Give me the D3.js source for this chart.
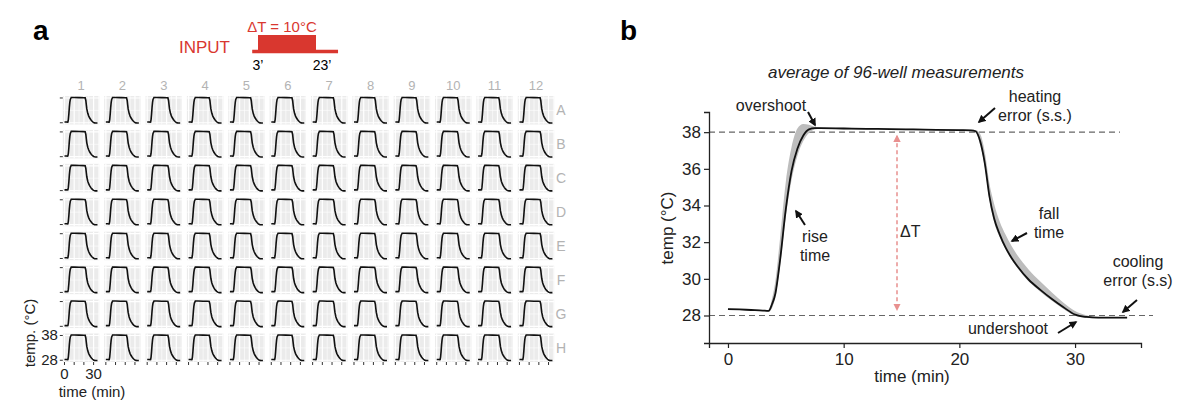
<!DOCTYPE html>
<html>
<head>
<meta charset="utf-8">
<script src="https://cdn.jsdelivr.net/npm/d3@7"></script>
<style>
  body { margin: 0; background: #fff; }
  text { font-family: "Liberation Sans", Arial, sans-serif; }
</style>
</head>
<body>
<div id="chart"></div>
<script>
// ---- data ----
const wellCols = ["1","2","3","4","5","6","7","8","9","10","11","12"];
const wellRows = ["A","B","C","D","E","F","G","H"];

// representative well trace (min, degC)
const wellTime = [0, 2, 3, 3.5, 4, 4.5, 5, 5.5, 6, 7, 10, 15, 20, 21.3, 22, 22.5, 23, 24, 25, 26, 27, 28, 29, 30, 31, 32, 34];
const wellTemp = [28.3, 28.3, 28.25, 28.3, 29.3, 31.5, 34.2, 36.2, 37.4, 38.2, 38.2, 38.15, 38.1, 38.05, 37.0, 35.2, 33.6, 31.8, 30.7, 29.9, 29.3, 28.8, 28.4, 28.1, 27.95, 27.9, 27.9];

// input pulse
const pulseStart = 3, pulseEnd = 23, pulseLineFrom = 1, pulseLineTo = 30.6;

// panel b: average of 96 wells with spread
const bTime = [0, 1, 2, 3, 3.5, 3.8, 4.1, 4.5, 5.0, 5.5, 6.0, 6.5, 7.0, 7.5, 8, 10, 12, 14, 16, 18, 20, 21, 21.4, 21.8, 22.2, 22.6, 23.0, 23.5, 24, 24.5, 25, 26, 27, 28, 29, 30, 31, 32, 33, 34, 34.5];
const bMean = [28.35, 28.33, 28.3, 28.27, 28.25, 28.6, 29.2, 31.0, 33.8, 35.9, 37.1, 37.8, 38.15, 38.22, 38.22, 38.2, 38.18, 38.17, 38.15, 38.13, 38.11, 38.1, 38.05, 37.5, 36.3, 34.5, 33.3, 32.4, 31.7, 31.15, 30.7, 29.95, 29.4, 28.9, 28.45, 28.05, 27.92, 27.88, 27.88, 27.88, 27.88];
const bHigh = [28.38, 28.36, 28.33, 28.3, 28.3, 28.9, 29.9, 32.2, 35.3, 37.2, 38.2, 38.45, 38.4, 38.3, 38.26, 38.24, 38.22, 38.2, 38.18, 38.16, 38.14, 38.13, 38.12, 37.9, 36.9, 35.2, 34.1, 33.1, 32.4, 31.8, 31.3, 30.5, 29.85, 29.25, 28.7, 28.25, 28.02, 27.92, 27.91, 27.91, 27.91];
const bLow = [28.32, 28.3, 28.27, 28.24, 28.2, 28.4, 29.0, 30.7, 33.4, 35.4, 36.7, 37.5, 37.95, 38.15, 38.18, 38.16, 38.14, 38.13, 38.11, 38.1, 38.08, 38.07, 38.0, 37.3, 36.1, 34.3, 33.1, 32.25, 31.6, 31.05, 30.6, 29.85, 29.3, 28.8, 28.35, 27.98, 27.86, 27.85, 27.85, 27.85, 27.85];

const bXTicks = [0, 10, 20, 30];
const bYTicks = [28, 30, 32, 34, 36, 38];
const setLow = 28, setHigh = 38;

const annotations = [
  { lines: ["overshoot"], x: 771, y: 111, arrow: [808, 112, 815, 125] },
  { lines: ["heating", "error (s.s.)"], x: 1035, y: 102, arrow: [995, 108, 979, 122] },
  { lines: ["rise", "time"], x: 815, y: 242, arrow: [805, 225, 796, 211] },
  { lines: ["fall", "time"], x: 1049, y: 219, arrow: [1027, 233, 1012, 241] },
  { lines: ["cooling", "error (s.s)"], x: 1138, y: 267, arrow: [1137, 300, 1123, 312] },
  { lines: ["undershoot"], x: 1008, y: 334, arrow: [1058, 333, 1076, 322] }
];

// ---- drawing ----
const width = 1200, height = 408;
const red = "#d9372f";

const svg = d3.select("#chart").append("svg")
  .attr("width", width)
  .attr("height", height);

const defs = svg.append("defs");
defs.append("marker")
  .attr("id", "ah")
  .attr("viewBox", "0 0 10 10")
  .attr("refX", 8).attr("refY", 5)
  .attr("markerWidth", 4).attr("markerHeight", 4)
  .attr("orient", "auto")
  .append("path").attr("d", "M0,0 L10,5 L0,10 z").attr("fill", "#111");
defs.append("marker")
  .attr("id", "ahRed")
  .attr("viewBox", "0 0 10 10")
  .attr("refX", 8).attr("refY", 5)
  .attr("markerWidth", 5).attr("markerHeight", 5)
  .attr("orient", "auto-start-reverse")
  .append("path").attr("d", "M0,0 L10,5 L0,10 z").attr("fill", "#e8908f");

// panel letters
svg.append("text").attr("x", 33).attr("y", 40).text("a")
  .attr("font-size", 28).attr("font-weight", "bold");
svg.append("text").attr("x", 620).attr("y", 40).text("b")
  .attr("font-size", 28).attr("font-weight", "bold");

// ---- panel a: input pulse ----
const px = d3.scaleLinear().domain([pulseStart, pulseEnd]).range([258, 316]);
const pulseY = 53, pulseTop = 35;
svg.append("text").attr("x", 230).attr("y", 53).attr("text-anchor", "end")
  .attr("font-size", 17).attr("fill", red).text("INPUT");
svg.append("line")
  .attr("x1", px(pulseLineFrom)).attr("x2", px(pulseLineTo))
  .attr("y1", pulseY - 1.5).attr("y2", pulseY - 1.5)
  .attr("stroke", red).attr("stroke-width", 3.5);
svg.append("rect")
  .attr("x", px(pulseStart)).attr("y", pulseTop)
  .attr("width", px(pulseEnd) - px(pulseStart)).attr("height", pulseY - pulseTop)
  .attr("fill", red);
svg.append("text").attr("x", (px(pulseStart) + px(pulseEnd)) / 2 - 5).attr("y", 32)
  .attr("text-anchor", "middle").attr("font-size", 15).attr("fill", red).text("ΔT = 10°C");
svg.append("text").attr("x", px(pulseStart)).attr("y", 70)
  .attr("text-anchor", "middle").attr("font-size", 14).text("3’");
svg.append("text").attr("x", px(pulseEnd) + 6).attr("y", 70)
  .attr("text-anchor", "middle").attr("font-size", 14).text("23’");

// ---- panel a: 96-well grid ----
const colScale = d3.scaleBand().domain(wellCols).range([62, 555]).paddingInner(0.12).paddingOuter(0.02);
const rowScale = d3.scaleBand().domain(wellRows).range([96, 362]).paddingInner(0.16).paddingOuter(0);
const cw = colScale.bandwidth(), rh = rowScale.bandwidth();

const sx = d3.scaleLinear().domain([-1.7, 35.8]).range([0, cw]);
const sy = d3.scaleLinear().domain([27.3, 38.8]).range([rh, 0]);
const wellLine = d3.line().x((d, i) => sx(wellTime[i])).y(d => sy(d));

const gA = svg.append("g");
wellRows.forEach(r => {
  wellCols.forEach(c => {
    const g = gA.append("g").attr("transform", `translate(${colScale(c)},${rowScale(r)})`);
    g.append("rect").attr("width", cw).attr("height", rh).attr("fill", "#ebebeb");
    [5, 15, 25, 35].forEach(v => g.append("line")
      .attr("x1", sx(v)).attr("x2", sx(v)).attr("y1", 0).attr("y2", rh)
      .attr("stroke", "#fff").attr("stroke-width", 0.6));
    [33].forEach(v => g.append("line")
      .attr("x1", 0).attr("x2", cw).attr("y1", sy(v)).attr("y2", sy(v))
      .attr("stroke", "#fff").attr("stroke-width", 0.6));
    [0, 10, 20, 30].forEach(v => g.append("line")
      .attr("x1", sx(v)).attr("x2", sx(v)).attr("y1", 0).attr("y2", rh)
      .attr("stroke", "#fff").attr("stroke-width", 1.2));
    [28, 38].forEach(v => g.append("line")
      .attr("x1", 0).attr("x2", cw).attr("y1", sy(v)).attr("y2", sy(v))
      .attr("stroke", "#fff").attr("stroke-width", 1.2));
    g.append("path").attr("d", wellLine(wellTemp))
      .attr("fill", "none").attr("stroke", "#111").attr("stroke-width", 1.6);
  });
});

// strip labels
gA.selectAll(".colLab").data(wellCols).enter().append("text")
  .attr("x", d => colScale(d) + cw / 2).attr("y", 90)
  .attr("text-anchor", "middle").attr("font-size", 13).attr("fill", "#b3b3b3").text(d => d);
gA.selectAll(".rowLab").data(wellRows).enter().append("text")
  .attr("x", 561).attr("y", d => rowScale(d) + rh / 2 + 5)
  .attr("text-anchor", "middle").attr("font-size", 14).attr("fill", "#b3b3b3").text(d => d);

// y ticks on first column, labels on last row only
const x0 = colScale(wellCols[0]);
wellRows.forEach(r => {
  [28, 38].forEach(v => {
    gA.append("line")
      .attr("x1", x0 - 3).attr("x2", x0).attr("y1", rowScale(r) + sy(v)).attr("y2", rowScale(r) + sy(v))
      .attr("stroke", "#333").attr("stroke-width", 1);
  });
});
const lastRow = wellRows[wellRows.length - 1];
[28, 38].forEach(v => {
  gA.append("text").attr("x", x0 - 5).attr("y", rowScale(lastRow) + sy(v) + 5)
    .attr("text-anchor", "end").attr("font-size", 15).attr("fill", "#222").text(v);
});
// x ticks on last row
const yBottom = rowScale(lastRow) + rh;
wellCols.forEach(c => {
  [0, 10, 20, 30].forEach(v => {
    gA.append("line")
      .attr("x1", colScale(c) + sx(v)).attr("x2", colScale(c) + sx(v))
      .attr("y1", yBottom).attr("y2", yBottom + 3)
      .attr("stroke", "#333").attr("stroke-width", 1);
  });
});
[0, 30].forEach(v => {
  gA.append("text").attr("x", x0 + sx(v)).attr("y", yBottom + 17)
    .attr("text-anchor", "middle").attr("font-size", 15).attr("fill", "#222").text(v);
});
gA.append("text").attr("x", 92).attr("y", 397).attr("text-anchor", "middle")
  .attr("font-size", 15).attr("fill", "#222").text("time (min)");
gA.append("text").attr("transform", "translate(35,333) rotate(-90)")
  .attr("text-anchor", "middle").attr("font-size", 15).attr("fill", "#222").text("temp. (°C)");

// ---- panel b ----
const x = d3.scaleLinear().domain([-1.64, 35.7]).range([709, 1141]);
const y = d3.scaleLinear().domain([26.5, 39.1]).range([343, 112]);
const gB = svg.append("g");

gB.append("text").attr("x", 896).attr("y", 78).attr("text-anchor", "middle")
  .attr("font-size", 17).attr("font-style", "italic").attr("fill", "#222")
  .text("average of 96-well measurements");

// setpoint dashed lines
gB.append("line").attr("x1", x.range()[0]).attr("x2", 1120)
  .attr("y1", y(setHigh)).attr("y2", y(setHigh))
  .attr("stroke", "#666").attr("stroke-width", 1.2).attr("stroke-dasharray", "6,4");
gB.append("line").attr("x1", x.range()[0]).attr("x2", 1153)
  .attr("y1", y(setLow)).attr("y2", y(setLow))
  .attr("stroke", "#666").attr("stroke-width", 1.2).attr("stroke-dasharray", "6,4");

const area = d3.area()
  .x((d, i) => x(bTime[i]))
  .y0((d, i) => y(bLow[i]))
  .y1(d => y(d))
  .curve(d3.curveMonotoneX);
gB.append("path").attr("d", area(bHigh)).attr("fill", "#bdbdbd");

const line = d3.line().x((d, i) => x(bTime[i])).y(d => y(d)).curve(d3.curveMonotoneX);
gB.append("path").attr("d", line(bMean))
  .attr("fill", "none").attr("stroke", "#111").attr("stroke-width", 1.8);

// delta T arrow
gB.append("line").attr("x1", 897).attr("x2", 897)
  .attr("y1", y(setHigh) + 4).attr("y2", y(setLow) - 6)
  .attr("stroke", "#e8908f").attr("stroke-width", 1.5).attr("stroke-dasharray", "4,3")
  .attr("marker-start", "url(#ahRed)").attr("marker-end", "url(#ahRed)");
gB.append("text").attr("x", 900).attr("y", 237).attr("font-size", 16).attr("fill", "#222").text("ΔT");

// axes
const xAxis = gB.append("g").attr("transform", `translate(0,${y.range()[0]})`)
  .call(d3.axisBottom(x).tickValues(bXTicks).tickSizeOuter(0).tickSize(5).tickPadding(5));
const yAxis = gB.append("g").attr("transform", `translate(${x.range()[0]},0)`)
  .call(d3.axisLeft(y).tickValues(bYTicks).tickSizeOuter(0).tickSize(5).tickPadding(3));
[xAxis, yAxis].forEach(a => {
  a.selectAll("text").attr("font-size", 17).attr("fill", "#222")
    .style("font-family", "'Liberation Sans', Arial, sans-serif");
  a.select(".domain").attr("stroke", "#222").attr("stroke-width", 1.3);
  a.selectAll(".tick line").attr("stroke", "#222").attr("stroke-width", 1.2);
});

gB.append("text").attr("x", 912).attr("y", 382).attr("text-anchor", "middle")
  .attr("font-size", 17).attr("fill", "#222").text("time (min)");
gB.append("text").attr("transform", "translate(673,228) rotate(-90)")
  .attr("text-anchor", "middle").attr("font-size", 17).attr("fill", "#222").text("temp (°C)");

// annotations
annotations.forEach(a => {
  a.lines.forEach((t, i) => {
    gB.append("text").attr("x", a.x).attr("y", a.y + i * 19)
      .attr("text-anchor", "middle").attr("font-size", 16).attr("fill", "#222").text(t);
  });
  gB.append("line")
    .attr("x1", a.arrow[0]).attr("y1", a.arrow[1]).attr("x2", a.arrow[2]).attr("y2", a.arrow[3])
    .attr("stroke", "#111").attr("stroke-width", 2).attr("marker-end", "url(#ah)");
});
</script>
</body>
</html>
